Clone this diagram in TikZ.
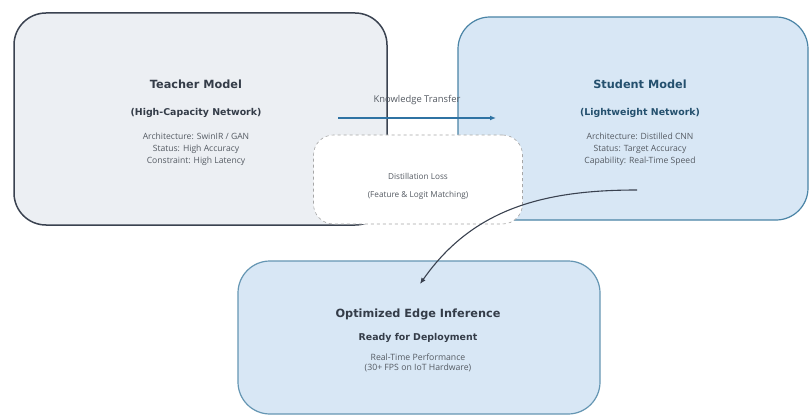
\documentclass[tikz,border=0pt]{standalone}
\usepackage{fontspec}
\setmainfont{DejaVu Sans}
\newfontfamily\detailfont{Open Sans}
\usetikzlibrary{positioning,arrows.meta}

\definecolor{teacherfill}{HTML}{ECEFF3}
\definecolor{teacherline}{HTML}{3A4250}
\definecolor{studentfill}{HTML}{D8E7F5}
\definecolor{studentline}{HTML}{4A84A6}
\definecolor{titledark}{HTML}{343C48}
\definecolor{titleblue}{HTML}{24506E}
\definecolor{detailgray}{HTML}{555B63}
\definecolor{transferblue}{HTML}{2F73A3}

\tikzset{
    modelbox/.style={draw,rounded corners=32,inner sep=0pt},
    titletext/.style={font=\bfseries\fontsize{11.3}{13}\selectfont},
    subtitletext/.style={font=\bfseries\fontsize{9.4}{11}\selectfont},
    detailtext/.style={font=\detailfont\fontsize{8.6}{12}\selectfont,text=detailgray,align=center},
}

\begin{document}
\begin{tikzpicture}[x=1pt,y=1pt]
            \useasboundingbox[fill=white] (0,0) rectangle (809,-417);
            % the two models
            \node[modelbox,fill=teacherfill,draw=teacherline,line width=1.5pt,
                minimum width=373,minimum height=212] (teacher) at (200.5,-119) {};
            \node[modelbox,fill=studentfill,draw=studentline,line width=1.2pt,
                minimum width=350,minimum height=203] (student) at (633,-118.5) {};
            \node[titletext,text=titledark] (teacher-title) at (196,-84) {Teacher Model};
            \node[subtitletext,text=titledark,below=29 of teacher-title.center,anchor=center] (teacher-sub) {(High-Capacity Network)};
            \node[detailtext,below=36 of teacher-sub.center,anchor=center] (teacher-info)
                {Architecture: SwinIR / GAN\\Status: High Accuracy\\Constraint: High Latency};
            \node[titletext,text=titleblue] (student-title) at (640,-84) {Student Model};
            \node[subtitletext,text=titleblue,below=29 of student-title.center,anchor=center] (student-sub) {(Lightweight Network)};
            \node[detailtext,below=36 of student-sub.center,anchor=center] (student-info)
                {Architecture: Distilled CNN\\Status: Target Accuracy\\Capability: Real-Time Speed};
            % knowledge transfer
            \coordinate (kt-start) at (338,-118);
            \coordinate (kt-end) at (496,-118);
            \draw[transferblue,line width=1.6pt,-{Latex[length=6pt,width=5pt]}] (kt-start) -- (kt-end)
                node[pos=0.5,above=9pt,font=\detailfont\fontsize{9.4}{11}\selectfont,text=detailgray] (kt-label) {Knowledge Transfer};
            % distillation loss
            \node[draw=gray!70,dashed,fill=white,rounded corners=20,line width=0.6pt,
                minimum width=209,minimum height=89] (loss) at (418,-179.5) {};
            \node[detailtext,font=\detailfont\fontsize{8.2}{18}\selectfont] (loss-text) at (418,-186)
                {Distillation Loss\\(Feature \& Logit Matching)};
            % deployment
            \node[modelbox,fill=studentfill,draw=studentline!85,line width=1.2pt,
                minimum width=362,minimum height=153] (edge) at (419,-337.5) {};
            \node[titletext,text=titledark] (edge-title) at (418,-314) {Optimized Edge Inference};
            \node[subtitletext,text=titledark,below=24 of edge-title.center,anchor=center] (edge-sub) {Ready for Deployment};
            \node[detailtext,font=\detailfont\fontsize{8.7}{10.5}\selectfont,below=25 of edge-sub.center,anchor=center] (edge-info)
                {Real-Time Performance\\(30+ FPS on IoT Hardware)};
            \coordinate (curve-start) at (637,-190);
            \coordinate (curve-end) at (420,-284);
            \draw[teacherline,line width=1.1pt,-{Latex[length=6pt,width=5pt]}] (curve-start) to[out=180,in=55] (curve-end);
        \end{tikzpicture}
\end{document}
